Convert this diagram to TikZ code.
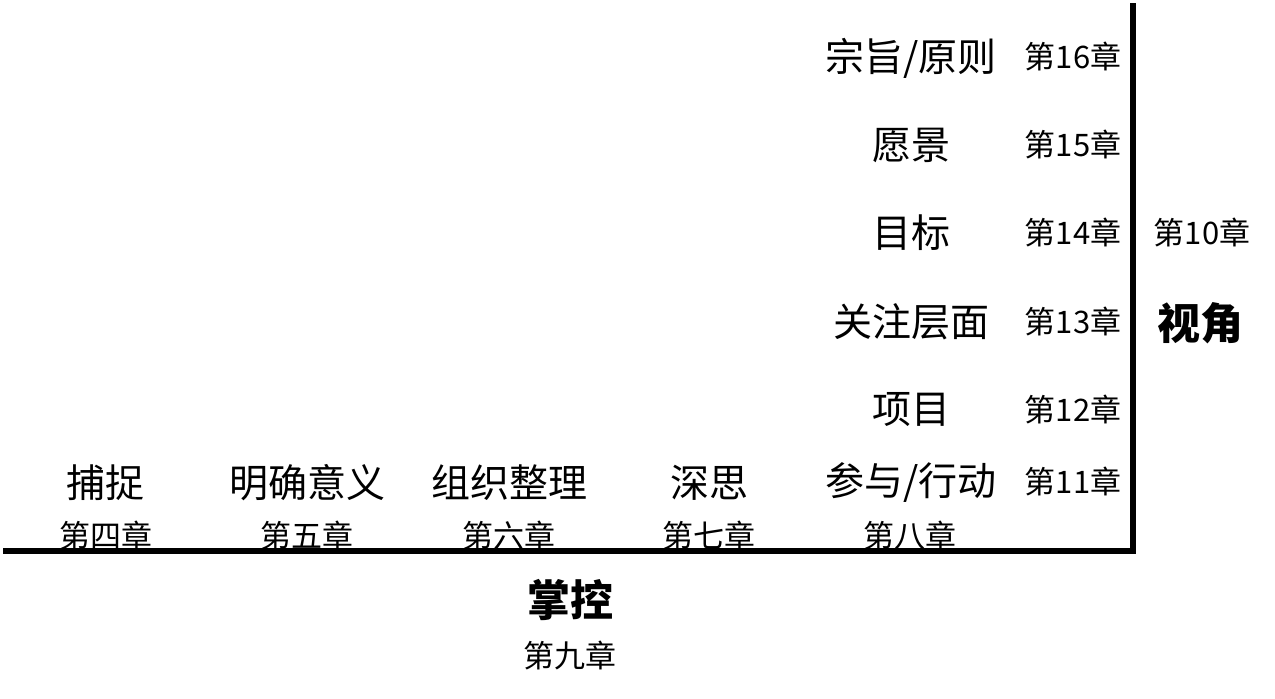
\documentclass[tikz,border=0pt]{standalone}
\usepackage{fontspec}
\setmainfont{Noto Sans CJK SC}
\usetikzlibrary{calc}

\begin{document}
\begin{tikzpicture}[x=0.5pt, y=-0.5pt,
  lbl/.style={inner sep=0pt, font=\fontsize{19.5}{20}\selectfont},
  chap/.style={inner sep=0pt, font=\fontsize{15.5}{16}\selectfont},
  big/.style={inner sep=0pt, font=\fontsize{21.5}{22}\selectfont\bfseries}]
  \useasboundingbox (0,0) rectangle (1275,699);
  % 坐标轴
  \coordinate (L) at (3,551);
  \coordinate (O) at (1133,551);
  \coordinate (T) at (1133,3);
  \draw[line width=3pt, line join=miter] (L) -- (O) -- (T);

  % 横向
  \node[lbl]  (capture)  at (105,483) {捕捉};
  \node[lbl]  (clarify)  at (307,483) {明确意义};
  \node[lbl]  (organize) at (509,483) {组织整理};
  \node[lbl]  (reflect)  at (709,483) {深思};
  \node[lbl]  (engage)   at (911,483) {参与/行动};
  \node[chap] (c4) at (106,536) {第四章};
  \node[chap] (c5) at (307,536) {第五章};
  \node[chap] (c6) at (509,536) {第六章};
  \node[chap] (c7) at (709,536) {第七章};
  \node[chap] (c8) at (910,536) {第八章};
  \node[big]  (control) at (570,600) {掌控};
  \node[chap] (c9) at (570,656) {第九章};

  % 纵向
  \node[lbl]  (project)  at (911,410) {项目};
  \node[lbl]  (focus)    at (911,322) {关注层面};
  \node[lbl]  (goal)     at (911,233) {目标};
  \node[lbl]  (vision)   at (911,145) {愿景};
  \node[lbl]  (purpose)  at (911,58)  {宗旨/原则};
  \node[chap] (c11) at (1073,482) {第11章};
  \node[chap] (c12) at (1073,410) {第12章};
  \node[chap] (c13) at (1073,322) {第13章};
  \node[chap] (c14) at (1073,233) {第14章};
  \node[chap] (c15) at (1073,145) {第15章};
  \node[chap] (c16) at (1073,57)  {第16章};
  \node[chap] (c10) at (1202,233) {第10章};
  \node[big]  (perspective) at (1200,323) {视角};
\end{tikzpicture}
\end{document}
